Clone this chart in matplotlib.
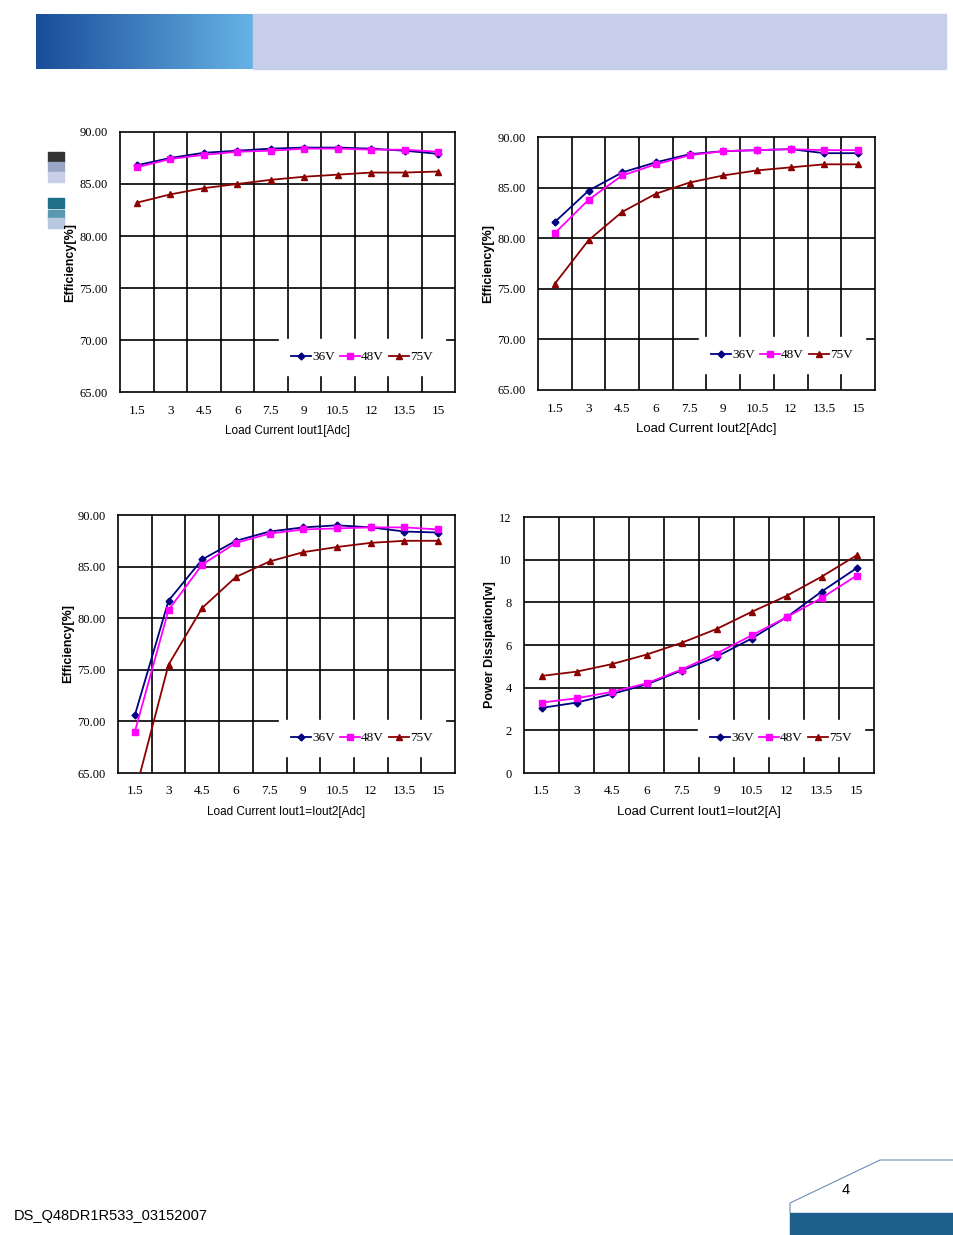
import matplotlib
matplotlib.use("Agg")
import matplotlib.pyplot as plt
from matplotlib.patches import Rectangle
import numpy as np

cats = ["1.5","3","4.5","6","7.5","9","10.5","12","13.5","15"]
c1_36 = [86.8,87.5,88.0,88.2,88.4,88.5,88.5,88.4,88.2,87.9]
c1_48 = [86.6,87.4,87.8,88.1,88.2,88.4,88.4,88.3,88.3,88.1]
c1_75 = [83.2,84.0,84.6,85.0,85.4,85.7,85.9,86.1,86.1,86.2]
c2_36 = [81.6,84.7,86.5,87.5,88.3,88.6,88.7,88.8,88.4,88.4]
c2_48 = [80.5,83.8,86.2,87.3,88.2,88.6,88.7,88.8,88.7,88.7]
c2_75 = [75.5,79.8,82.6,84.4,85.5,86.2,86.7,87.0,87.3,87.3]
c3_36 = [70.6,81.7,85.7,87.5,88.4,88.8,89.0,88.8,88.4,88.3]
c3_48 = [69.0,80.8,85.2,87.3,88.2,88.6,88.7,88.8,88.8,88.6]
c3_75 = [63.0,75.5,81.0,84.0,85.5,86.4,86.9,87.3,87.5,87.5]
c4_36 = [3.05,3.3,3.7,4.15,4.8,5.45,6.3,7.3,8.5,9.6]
c4_48 = [3.3,3.5,3.8,4.2,4.85,5.6,6.45,7.3,8.2,9.25]
c4_75 = [4.55,4.75,5.1,5.55,6.1,6.75,7.55,8.3,9.2,10.2]
eff_ticks = [65,70,75,80,85,90]
pd_ticks = [0,2,4,6,8,10,12]

W, H = 954, 1235
fig = plt.figure(figsize=(W/100, H/100), dpi=100)

def ax_at(x0, y0, x1, y1):
    return fig.add_axes([x0/W, 1-y1/H, (x1-x0)/W, (y1-y0)/H])

serif = "Liberation Serif"
sans = "Liberation Sans"

def chart(rect, s36, s48, s75, yt, fmt, xlabel, ylabel, xlfs=9):
    ax = ax_at(*rect)
    x = np.arange(len(cats))
    ax.set_xlim(-0.5, len(cats)-0.5)
    ax.set_ylim(yt[0], yt[-1])
    for b in np.arange(0.5, len(cats)-0.5, 1):
        ax.axvline(b, color="black", lw=1.2, zorder=1)
    for t in yt[1:-1]:
        ax.axhline(t, color="black", lw=1.2, zorder=1)
    ax.plot(x, s36, color="#000080", marker="D", ms=3.5, lw=1.3, label="36V", zorder=3)
    ax.plot(x, s48, color="#FF00FF", marker="s", ms=4.5, lw=1.3, label="48V", zorder=3)
    ax.plot(x, s75, color="#8B0000", marker="^", ms=4.5, lw=1.3, label="75V", zorder=3)
    ax.set_xticks(x)
    ax.set_xticklabels(cats, fontfamily=serif, fontsize=9.5)
    ax.set_yticks(yt)
    ax.set_yticklabels([fmt.format(t) for t in yt], fontfamily=serif, fontsize=9)
    ax.tick_params(length=0, pad=9)
    ax.set_xlabel(xlabel, fontfamily=sans, fontsize=xlfs, labelpad=6)
    ax.set_ylabel(ylabel, fontfamily=sans, fontsize=9, fontweight="bold", labelpad=2)
    for s in ax.spines.values():
        s.set_linewidth(1.2)
    leg = ax.legend(loc="lower right", bbox_to_anchor=(0.99, 0.04), ncol=3, frameon=True,
                    fancybox=False, edgecolor="white", facecolor="white", framealpha=1,
                    handlelength=1.5, handletextpad=0.1, columnspacing=0.4,
                    borderpad=0.9, prop={"family": serif, "size": 9.5})
    leg.set_zorder(2)
    return ax

chart((120,132,455,392), c1_36, c1_48, c1_75, eff_ticks, "{:.2f}", "Load Current Iout1[Adc]", "Efficiency[%]", 8.5)
chart((538,137,875,390), c2_36, c2_48, c2_75, eff_ticks, "{:.2f}", "Load Current Iout2[Adc]", "Efficiency[%]", 9.5)
chart((118,515,455,773), c3_36, c3_48, c3_75, eff_ticks, "{:.2f}", "Load Current Iout1=Iout2[Adc]", "Efficiency[%]", 8.5)
chart((524,517,874,773), c4_36, c4_48, c4_75, pd_ticks, "{:d}", "Load Current Iout1=Iout2[A]", "Power Dissipation[w]", 9.5)

bg = fig.add_axes([0, 0, 1, 1], zorder=-5)
bg.set_xlim(0, W); bg.set_ylim(H, 0); bg.axis("off")
bg.add_patch(Rectangle((253, 14), 693, 55, color="#C6CEEA"))
grad = np.linspace(0, 1, 200)[None, :]
bg.imshow(np.dstack([0.1+0.3*grad, 0.3+0.4*grad, 0.6+0.3*grad]), extent=(36, 253, 69, 14), aspect="auto")
for (yy, cc) in [(152, "#333333"), (162, "#9AA6C8"), (172, "#C8D0E8"), (198, "#1F6F8B"), (210, "#5A9AB0"), (218, "#B8C8E0")]:
    bg.add_patch(Rectangle((48, yy), 16, 10, color=cc))
bg.add_patch(Rectangle((790, 1213), 164, 22, color="#1F5F8B"))
bg.plot([790, 790, 880, 954], [1213, 1203, 1160, 1160], color="#6B8FB5", lw=0.8)
bg.text(14, 1216, "DS_Q48DR1R533_03152007", fontfamily=sans, fontsize=10.5, va="center")
bg.text(846, 1190, "4", fontfamily=sans, fontsize=10.5, va="center", ha="center")

fig.savefig("out.png", dpi=100)
